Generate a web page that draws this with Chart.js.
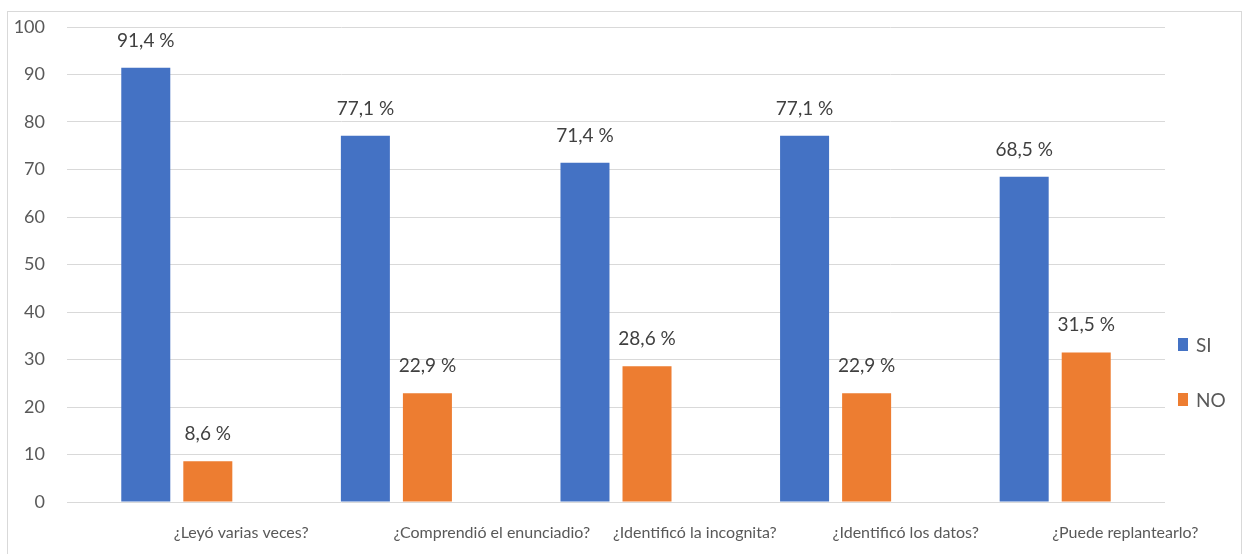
<!DOCTYPE html>
<html>
<head>
<meta charset="utf-8">
<script src="https://cdn.jsdelivr.net/npm/chart.js@4.4.1/dist/chart.umd.min.js"></script>
<style>
  html, body { margin: 0; padding: 0; background: #fff; }
  #wrap { position: relative; width: 1251px; height: 554px; overflow: hidden; }
  #frame { position: absolute; left: 7px; top: 11px; width: 1235px; height: 600px; border: 1px solid #d9d9d9; box-sizing: border-box; }
  #chart { position: absolute; left: 0; top: 0; }
  #legend { position: absolute; left: 1178px; top: 333px; font-family: Lato, sans-serif; font-size: 19px; color: #595959; }
  #legend .item { display: flex; align-items: center; height: 22px; margin-bottom: 33px; }
  #legend .box { width: 10px; height: 13px; margin-right: 8px; }
</style>
</head>
<body>
<div id="wrap">
  <div id="frame"></div>
  <canvas id="chart" width="1251" height="554"></canvas>
  <div id="legend"></div>
</div>
<script>
// Encuesta: respuestas SI / NO por pregunta (porcentaje)
const preguntas = [
  '¿Leyó varias veces?',
  '¿Comprendió el enunciadio?',
  '¿Identificó la incognita?',
  '¿Identificó los datos?',
  '¿Puede replantearlo?'
];
const valoresSi = [91.4, 77.1, 71.4, 77.1, 68.5];
const valoresNo = [8.6, 22.9, 28.6, 22.9, 31.5];
const ticksY = [0, 10, 20, 30, 40, 50, 60, 70, 80, 90, 100];

const AZUL = '#4472C4';
const NARANJA = '#ED7D31';

// Etiquetas de porcentaje encima de cada barra
const etiquetasValor = {
  id: 'etiquetasValor',
  afterDatasetsDraw(chart) {
    const ctx = chart.ctx;
    ctx.save();
    ctx.font = '19px Lato, sans-serif';
    ctx.fillStyle = '#404040';
    ctx.textAlign = 'center';
    ctx.textBaseline = 'alphabetic';
    chart.data.datasets.forEach((ds, i) => {
      chart.getDatasetMeta(i).data.forEach((bar, j) => {
        const txt = ds.data[j].toFixed(1).replace('.', ',') + ' %';
        ctx.fillText(txt, bar.x, bar.y - 21);
      });
    });
    ctx.restore();
  }
};

const chart = new Chart(document.getElementById('chart'), {
  type: 'bar',
  data: {
    labels: preguntas,
    datasets: [
      { label: 'SI', data: valoresSi, backgroundColor: AZUL },
      { label: 'NO', data: valoresNo, backgroundColor: NARANJA }
    ]
  },
  options: {
    responsive: false,
    animation: false,
    categoryPercentage: 0.565,
    barPercentage: 0.79,
    layout: { padding: { left: 10, right: 86, top: 27, bottom: 0 } },
    plugins: {
      legend: { display: false },
      tooltip: { enabled: false }
    },
    scales: {
      x: {
        grid: { display: false },
        border: { display: false },
        ticks: {
          autoSkip: false,
          maxRotation: 0,
          align: 'start',
          labelOffset: -3,
          padding: 13,
          color: '#595959',
          font: { family: 'Lato, sans-serif', size: 16 }
        },
        afterFit: (scale) => { scale.height = 52; }
      },
      y: {
        min: 0,
        max: 100,
        afterBuildTicks: (scale) => { scale.ticks = ticksY.map(v => ({ value: v })); },
        grid: { color: '#d9d9d9', drawTicks: false },
        border: { display: false },
        ticks: {
          padding: 22,
          color: '#595959',
          font: { family: 'Lato, sans-serif', size: 18 }
        },
        // ancho fijo; el padding de los ticks no debe empujar el área hacia abajo
        afterFit: (scale) => {
          scale.width = 57;
          scale.paddingTop = 0;
          scale.paddingBottom = 0;
        }
      }
    }
  },
  plugins: [etiquetasValor]
});

// Leyenda a la derecha, generada desde los datasets
const legendEl = document.getElementById('legend');
chart.data.datasets.forEach(ds => {
  const item = document.createElement('div');
  item.className = 'item';
  item.innerHTML = '<span class="box" style="background:' + ds.backgroundColor + '"></span><span>' + ds.label + '</span>';
  legendEl.appendChild(item);
});
</script>
</body>
</html>
